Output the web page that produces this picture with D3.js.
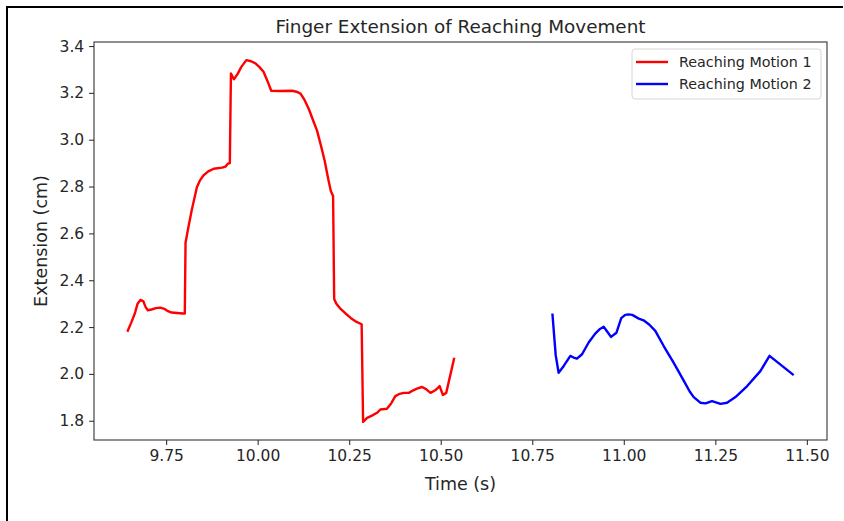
<!DOCTYPE html>
<html>
<head>
<meta charset="utf-8">
<script src="https://cdn.jsdelivr.net/npm/d3@7"></script>
<style>
    body { margin: 0; background: #ffffff; }
    svg { display: block; }
    text { font-family: "DejaVu Sans", sans-serif; fill: #262626; }
</style>
</head>
<body>
<script>
// values
const motion1_time = [9.644, 9.655, 9.665, 9.672, 9.680, 9.688, 9.694, 9.700, 9.710, 9.722, 9.734, 9.745, 9.755, 9.765, 9.780, 9.796, 9.801,
    9.803, 9.810, 9.820, 9.834, 9.842, 9.852, 9.865, 9.880, 9.903, 9.912, 9.919, 9.924,
    9.927, 9.935, 9.945, 9.955, 9.969, 9.982, 9.994, 10.005, 10.016, 10.027, 10.037, 10.060, 10.094, 10.106, 10.117,
    10.128, 10.140, 10.152, 10.162, 10.172, 10.183, 10.193, 10.200, 10.206,
    10.209, 10.215, 10.225, 10.240, 10.255, 10.270, 10.284,
    10.288, 10.299, 10.312, 10.326, 10.335, 10.353, 10.365, 10.376, 10.388, 10.399, 10.413, 10.425, 10.435, 10.449,
    10.460, 10.472, 10.485, 10.497, 10.506, 10.515, 10.537];
const motion1_ext = [2.180, 2.220, 2.260, 2.300, 2.316, 2.310, 2.285, 2.272, 2.275, 2.281, 2.283, 2.278, 2.268, 2.262, 2.260, 2.258, 2.258,
    2.560, 2.620, 2.700, 2.797, 2.825, 2.848, 2.865, 2.876, 2.881, 2.885, 2.898, 2.900,
    3.283, 3.258, 3.280, 3.310, 3.340, 3.335, 3.326, 3.310, 3.290, 3.250, 3.209, 3.208, 3.209, 3.205, 3.197,
    3.170, 3.130, 3.080, 3.040, 2.980, 2.910, 2.830, 2.780, 2.760,
    2.320, 2.300, 2.280, 2.258, 2.238, 2.222, 2.212,
    1.795, 1.812, 1.822, 1.834, 1.848, 1.851, 1.875, 1.905, 1.915, 1.919, 1.919, 1.930, 1.937, 1.944,
    1.935, 1.919, 1.930, 1.948, 1.910, 1.919, 2.069];

const motion2_time = [10.805, 10.814, 10.822, 10.836, 10.854, 10.863, 10.872, 10.886, 10.904, 10.922, 10.935, 10.945, 10.955, 10.965, 10.980, 10.993,
    11.004, 11.013, 11.023, 11.041, 11.054, 11.070, 11.086, 11.109, 11.136, 11.164, 11.180, 11.191, 11.209, 11.223, 11.241, 11.264, 11.282,
    11.305, 11.337, 11.373, 11.398, 11.464];
const motion2_ext = [2.258, 2.080, 2.005, 2.034, 2.077, 2.070, 2.065, 2.084, 2.134, 2.172, 2.192, 2.201, 2.180, 2.158, 2.176, 2.238,
    2.252, 2.254, 2.252, 2.236, 2.229, 2.210, 2.184, 2.119, 2.048, 1.970, 1.925, 1.901, 1.877, 1.874, 1.884, 1.872, 1.877,
    1.901, 1.948, 2.012, 2.077, 1.995];

const series_names = ["Reaching Motion 1", "Reaching Motion 2"];
const series_colors = ["#ff0000", "#0000ff"];
const x_ticks = [9.75, 10.00, 10.25, 10.50, 10.75, 11.00, 11.25, 11.50];
const y_ticks = [1.8, 2.0, 2.2, 2.4, 2.6, 2.8, 3.0, 3.2, 3.4];

class ReachingChart {
    constructor(name) {
        this.name = name;
        this.total_width = 844;
        this.total_height = 521;
        this.margin = { top: 42, right: 17, bottom: 81, left: 94 };
        this.graph_width = this.total_width - this.margin.left - this.margin.right;
        this.graph_height = this.total_height - this.margin.top - this.margin.bottom;
        this.svg = null;
        this.inner = null;
    }

    construct_svg(self = this) {
        self.svg = d3.select("body").append("svg")
            .attr("width", self.total_width)
            .attr("height", self.total_height)
            .attr("id", self.name);

        // frame lines of the screenshot (top and left only)
        self.svg.append("line")
            .attr("x1", 6).attr("x2", 843).attr("y1", 7).attr("y2", 7)
            .attr("stroke", "#000").attr("stroke-width", 2);
        self.svg.append("line")
            .attr("x1", 7).attr("x2", 7).attr("y1", 6).attr("y2", 521)
            .attr("stroke", "#000").attr("stroke-width", 2);

        self.inner = self.svg.append("g")
            .attr("transform", "translate(" + self.margin.left + "," + self.margin.top + ")");
    }

    construct_graph(self = this) {
        const series = [
            motion1_time.map((t, i) => [t, motion1_ext[i]]),
            motion2_time.map((t, i) => [t, motion2_ext[i]])
        ];
        const all_t = motion1_time.concat(motion2_time);
        const all_v = motion1_ext.concat(motion2_ext);

        // matplotlib style 5% padding around the data
        const tx = d3.extent(all_t), vy = d3.extent(all_v);
        const pad_t = (tx[1] - tx[0]) * 0.05, pad_v = (vy[1] - vy[0]) * 0.05;

        const x = d3.scaleLinear()
            .domain([tx[0] - pad_t, tx[1] + pad_t])
            .range([0, self.graph_width]);
        const y = d3.scaleLinear()
            .domain([vy[0] - pad_v, vy[1] + pad_v])
            .range([self.graph_height, 0]);

        const line = d3.line()
            .x(d => x(d[0]))
            .y(d => y(d[1]));

        self.inner.selectAll(".series")
            .data(series)
            .enter().append("path")
            .attr("class", "series")
            .attr("d", line)
            .attr("fill", "none")
            .attr("stroke", (d, i) => series_colors[i])
            .attr("stroke-width", 2.4)
            .attr("stroke-linejoin", "round")
            .attr("stroke-linecap", "butt");

        // x axis
        const x_axis = self.inner.append("g")
            .attr("transform", "translate(0," + self.graph_height + ")")
            .call(d3.axisBottom(x).tickValues(x_ticks).tickFormat(d3.format(".2f"))
                .tickSize(4.9).tickPadding(4.9));
        // y axis
        const y_axis = self.inner.append("g")
            .call(d3.axisLeft(y).tickValues(y_ticks).tickFormat(d3.format(".1f"))
                .tickSize(4.9).tickPadding(4.9));

        [x_axis, y_axis].forEach(a => {
            a.select(".domain").remove();
            a.selectAll(".tick line").attr("stroke", "#333").attr("stroke-width", 1.1);
            a.selectAll(".tick text").attr("font-size", 15.5).attr("fill", "#262626")
                .attr("font-family", "DejaVu Sans, sans-serif");
        });

        // axes frame
        self.inner.append("rect")
            .attr("width", self.graph_width)
            .attr("height", self.graph_height)
            .attr("fill", "none")
            .attr("stroke", "#333")
            .attr("stroke-width", 1.1);

        // title + labels
        self.svg.append("text")
            .attr("x", self.margin.left + self.graph_width / 2)
            .attr("y", 33)
            .attr("text-anchor", "middle")
            .attr("font-size", 18.4)
            .text("Finger Extension of Reaching Movement");

        self.svg.append("text")
            .attr("x", self.margin.left + self.graph_width / 2)
            .attr("y", 490)
            .attr("text-anchor", "middle")
            .attr("font-size", 17.5)
            .text("Time (s)");

        self.svg.append("text")
            .attr("transform", "translate(47," + (self.margin.top + self.graph_height / 2) + ") rotate(-90)")
            .attr("text-anchor", "middle")
            .attr("font-size", 17.5)
            .text("Extension (cm)");

        // legend
        const legend = self.inner.append("g")
            .attr("transform", "translate(" + (self.graph_width - 195) + ",7)");
        legend.append("rect")
            .attr("width", 189).attr("height", 50)
            .attr("rx", 3)
            .attr("fill", "#fff").attr("fill-opacity", 0.8)
            .attr("stroke", "#d6d6d6").attr("stroke-width", 1);
        const rows = legend.selectAll(".legend_row")
            .data(series_names)
            .enter().append("g")
            .attr("class", "legend_row")
            .attr("transform", (d, i) => "translate(0," + (13 + i * 22) + ")");
        rows.append("line")
            .attr("x1", 4).attr("x2", 36)
            .attr("stroke", (d, i) => series_colors[i])
            .attr("stroke-width", 2.4);
        rows.append("text")
            .attr("x", 47).attr("y", 5)
            .attr("font-size", 14.3)
            .text(d => d);
    }
}

const chart = new ReachingChart("reachChart");
chart.construct_svg();
chart.construct_graph();
</script>
</body>
</html>
